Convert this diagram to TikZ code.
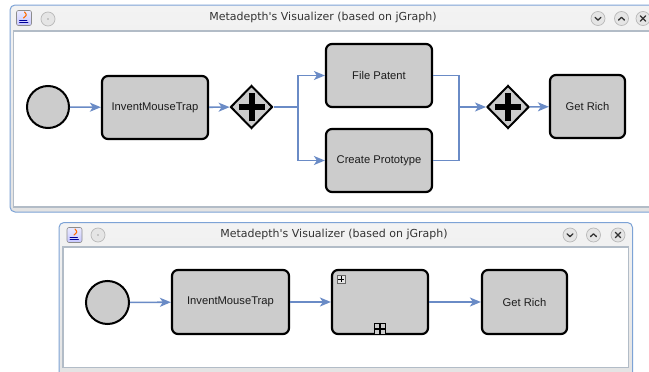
\documentclass[tikz,border=0pt]{standalone}
\usepackage{fontspec}
\setmainfont{Liberation Sans}
\newfontfamily\titlefont{DejaVu Sans}
\usetikzlibrary{arrows.meta,shapes.geometric,calc}

\definecolor{nodefill}{HTML}{CCCCCC}
\definecolor{flowblue}{HTML}{6A8BC6}
\definecolor{bartop}{HTML}{F3F3F3}
\definecolor{barbottom}{HTML}{E3E3E3}
\definecolor{frameblue}{HTML}{7DA3D6}
\definecolor{panelline}{HTML}{B2BCC7}
\definecolor{btnfill}{HTML}{E5E5E5}
\definecolor{btnline}{HTML}{B9B9B9}
\definecolor{labelgrey}{HTML}{1C1C1C}

\tikzset{
  task/.style={rectangle, rounded corners=6pt, draw=black, line width=2.2pt,
    fill=nodefill, inner sep=0pt, text=labelgrey,
    font=\fontsize{11.2}{13}\selectfont},
  startevent/.style={circle, draw=black, line width=2pt, fill=nodefill,
    inner sep=0pt, minimum size=#1},
  parallelgw/.style={diamond, draw=black, line width=2pt, fill=nodefill,
    inner sep=0pt, minimum width=42pt, minimum height=43pt,
    path picture={
      \draw[line width=6pt, black]
        ([xshift=-13pt]path picture bounding box.center) --
        ([xshift=13pt]path picture bounding box.center);
      \draw[line width=6pt, black]
        ([yshift=-14pt]path picture bounding box.center) --
        ([yshift=14pt]path picture bounding box.center);}},
  flowline/.style={draw=flowblue, line width=1.6pt},
  flow/.style={flowline, -{Stealth[length=11pt, width=9pt, inset=3pt]}},
  windowframe/.style={draw=frameblue, line width=1pt, rounded corners=5pt,
    top color=bartop, bottom color=barbottom},
  panel/.style={draw=panelline, line width=1.6pt, fill=white},
  wintitle/.style={font=\titlefont\fontsize{11}{13}\selectfont,
    text=black!80},
  winbtn/.style={circle, draw=btnline, fill=btnfill, line width=0.7pt,
    minimum size=14pt, inner sep=0pt},
  appicon/.style={rectangle, rounded corners=2pt, draw=black!45,
    line width=0.6pt, top color=blue!8, bottom color=blue!22,
    minimum size=15pt, inner sep=0pt},
  glyph/.style={draw=black!80, line width=1.3pt, line cap=round,
    line join=round}
}

% Title bar of a window: application icon, menu button, title, and the
% minimise / maximise / close buttons (coordinates in picture units, y down).
\newcommand{\titlebar}[6]{%
  \node[appicon] (#1icon) at (#2) {};
  \draw[orange!85!red, line width=1.1pt, line cap=round]
    ([shift={(-0.5,0)}]#1icon.center) .. controls
    ([shift={(3,-3)}]#1icon.center) .. ([shift={(0.5,-6)}]#1icon.center);
  \draw[blue!60!black, line width=0.8pt, line cap=round]
    ([shift={(-4.5,2)}]#1icon.center) -- ([shift={(3,2)}]#1icon.center)
    ([shift={(-4.5,4.5)}]#1icon.center) -- ([shift={(4,4.5)}]#1icon.center);
  \node[winbtn] (#1menu) at (#3) {};
  \fill[black!35] (#1menu.center) circle (0.9pt);
  \node[wintitle] (#1title) at (#4) {Metadepth's Visualizer (based on jGraph)};
  \node[winbtn] (#1min) at (#5) {};
  \draw[glyph] ([shift={(-3,-1.2)}]#1min.center) --
    ([shift={(0,1.6)}]#1min.center) -- ([shift={(3,-1.2)}]#1min.center);
  \node[winbtn] (#1max) at ($(#5)+(23.5,0)$) {};
  \draw[glyph] ([shift={(-3,1.6)}]#1max.center) --
    ([shift={(0,-1.2)}]#1max.center) -- ([shift={(3,1.6)}]#1max.center);
  \node[winbtn] (#1close) at (#6) {};
  \draw[glyph] ([shift={(-2.6,-2.6)}]#1close.center) --
    ([shift={(2.6,2.6)}]#1close.center)
    ([shift={(-2.6,2.6)}]#1close.center) --
    ([shift={(2.6,-2.6)}]#1close.center);
}

\begin{document}
\begin{tikzpicture}[x=1pt, y=-1pt]
\useasboundingbox (0,0) rectangle (649,372);
\clip (0,0) rectangle (649,372);
\fill[white] (0,0) rectangle (649,372);

% ---------- upper window: full process ----------
\path[windowframe] (10,5) rectangle (690,212);
\path[panel] (13.5,31) rectangle (690,207);
\titlebar{wa}{24,18}{48,19}{323,17.5}{598,18.5}{643,18.5}

\node[startevent=42pt] (start1) at (48,107) {};
\node[task, minimum width=106pt, minimum height=63pt] (imt1) at (155,107.5) {InventMouseTrap};
\node[parallelgw] (g1) at (251.5,107) {};
\node[task, minimum width=106pt, minimum height=63pt] (fp) at (379,75.5) {File Patent};
\node[task, minimum width=106pt, minimum height=63pt] (cp) at (379,160.5) {Create Prototype};
\node[parallelgw] (g2) at (508,107) {};
\node[task, minimum width=75pt, minimum height=63pt] (gr1) at (587.5,106.5) {Get Rich};

\coordinate (split) at (298,107);
\coordinate (merge) at (459,107);

\draw[flow] (start1) -- (imt1);
\draw[flow] (imt1) -- (g1);
\draw[flowline] (g1.east) -- (split);
\draw[flow] (split) |- (fp.west);
\draw[flow] (split) |- (cp.west);
\draw[flowline] (fp.east) -| (merge);
\draw[flowline] (cp.east) -| (merge);
\draw[flow] (merge) -- (g2.west);
\draw[flow] (g2) -- (gr1);

% ---------- lower window: collapsed sub-process ----------
\path[windowframe] (59,222.5) rectangle (632.5,380);
\path[panel] (63,247) rectangle (628.5,367.5);
\titlebar{wb}{74.5,235}{98,235}{334,234.5}{570,235}{618,235}

\node[startevent=43pt] (start2) at (107.5,302.5) {};
\node[task, minimum width=117pt, minimum height=64pt] (imt2) at (230.5,302) {InventMouseTrap};
\node[task, minimum width=96pt, minimum height=64pt] (sub) at (380,302) {};
\node[task, minimum width=85pt, minimum height=64pt] (gr2) at (524.5,302) {Get Rich};

% expand icon in the corner and collapsed marker on the lower edge
\node[rectangle, draw=black!60, fill=black!10, line width=0.6pt,
  minimum size=8pt, inner sep=0pt] (subicon) at ([shift={(10,10)}]sub.north west) {};
\draw[black, line width=0.8pt] ([xshift=-2.6pt]subicon.center) -- ([xshift=2.6pt]subicon.center)
  ([yshift=-2.6pt]subicon.center) -- ([yshift=2.6pt]subicon.center);
\node[rectangle, draw=black, fill=nodefill, line width=1.6pt,
  minimum size=11pt, inner sep=0pt] (submark) at ([shift={(0,-6)}]sub.south) {};
\draw[black, line width=1.6pt] (submark.west) -- (submark.east)
  (submark.north) -- (submark.south);

\draw[flow] (start2) -- (imt2);
\draw[flow] (imt2) -- (sub);
\draw[flow] (sub) -- (gr2);
\end{tikzpicture}
\end{document}
